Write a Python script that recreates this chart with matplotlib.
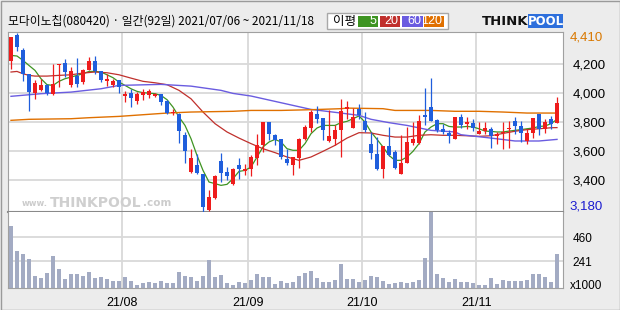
import matplotlib
matplotlib.use("Agg")
import matplotlib.pyplot as plt
from matplotlib.patches import Rectangle
import numpy as np

plt.rcParams['font.family'] = ['Noto Sans CJK KR', 'DejaVu Sans']

# ---------------- data ----------------
title = "모다이노칩(080420) · 일간(92일) 2021/07/06 ~ 2021/11/18"

opens = [4215, 4393, 4290, 4126, 3997, 4020, 4055, 3993, 4188, 4203,
         4050, 4114, 4073, 4158, 4217, 4146, 4080, 4050, 4084, 3975,
         4000, 3943, 3986, 3986, 3975, 3988, 3943, 3858, 3855, 3707,
         3455, 3501, 3439, 3196, 3279, 3530, 3455, 3370, 3505, 3460,
         3473, 3553, 3638, 3798, 3707, 3679, 3542, 3505, 3553, 3679,
         3759, 3855, 3826, 3665, 3684, 3741, 3890, 3759, 3885, 3805,
         3645, 3576, 3473, 3633, 3592, 3444, 3519, 3656, 3656, 3844,
         3901, 3810, 3748, 3723, 3684, 3833, 3787, 3791, 3718, 3734,
         3752, 3704, 3723, 3750, 3805, 3768, 3666, 3725, 3855, 3752,
         3817, 3794]
highs = [4385, 4410, 4306, 4130, 4084, 4096, 4062, 4194, 4197, 4233,
         4176, 4238, 4160, 4245, 4251, 4150, 4130, 4096, 4086, 4009,
         4027, 4004, 4027, 4027, 4000, 3990, 3947, 3885, 3858, 3730,
         3615, 3576, 3441, 3329, 3432, 3585, 3489, 3480, 3551, 3512,
         3569, 3718, 3798, 3798, 3718, 3680, 3615, 3558, 3688, 3780,
         3878, 3908, 3828, 3878, 3775, 3958, 3940, 3894, 3924, 3867,
         3730, 3695, 3633, 3764, 3604, 3707, 3764, 3798, 3849, 4032,
         4100, 3817, 3787, 3741, 3835, 3855, 3833, 3817, 3798, 3798,
         3764, 3730, 3798, 3803, 3833, 3803, 3752, 3826, 3855, 3817,
         3840, 3970]
lows = [4165, 4284, 4078, 3872, 3958, 4009, 3981, 3986, 4040, 4107,
        4039, 4039, 4062, 4153, 4130, 4073, 4045, 4039, 4000, 3936,
        3901, 3924, 3947, 3963, 3970, 3917, 3856, 3844, 3656, 3517,
        3450, 3444, 3180, 3185, 3272, 3386, 3398, 3365, 3409, 3437,
        3427, 3505, 3592, 3672, 3638, 3546, 3501, 3437, 3485, 3672,
        3730, 3794, 3672, 3663, 3643, 3558, 3817, 3757, 3821, 3730,
        3542, 3466, 3416, 3565, 3473, 3444, 3519, 3643, 3650, 3780,
        3805, 3730, 3718, 3656, 3684, 3757, 3752, 3736, 3716, 3718,
        3620, 3650, 3611, 3620, 3718, 3661, 3650, 3688, 3711, 3725,
        3748, 3794]
closes = [4382, 4313, 4126, 4004, 4066, 4055, 3997, 4061, 4195, 4142,
          4146, 4062, 4153, 4217, 4146, 4084, 4091, 4080, 4039, 3993,
          3965, 3993, 4004, 4009, 3988, 3936, 3860, 3867, 3736, 3597,
          3551, 3450, 3215, 3283, 3428, 3450, 3427, 3478, 3478, 3478,
          3558, 3638, 3798, 3714, 3672, 3558, 3519, 3558, 3679, 3764,
          3867, 3821, 3741, 3702, 3741, 3872, 3901, 3833, 3849, 3746,
          3588, 3473, 3633, 3574, 3485, 3517, 3661, 3679, 3803, 3835,
          3805, 3741, 3730, 3700, 3833, 3780, 3794, 3759, 3736, 3757,
          3700, 3714, 3730, 3757, 3768, 3725, 3723, 3826, 3752, 3798,
          3787, 3929]
volumes = [564, 334, 313, 261, 110, 86, 132, 294, 169, 77,
           129, 129, 110, 147, 86, 95, 77, 58, 64, 101,
           64, 28, 46, 55, 46, 64, 46, 46, 147, 110,
           101, 64, 110, 251, 101, 120, 46, 28, 55, 46,
           74, 129, 101, 101, 37, 64, 46, 55, 110, 138,
           156, 92, 55, 55, 74, 221, 83, 83, 55, 74,
           110, 101, 64, 37, 46, 55, 46, 55, 74, 276,
           800, 129, 92, 55, 83, 55, 55, 46, 28, 28,
           92, 37, 74, 64, 64, 64, 74, 129, 129, 101,
           55, 304]

ma5 = [4256, 4252, 4222, 4187, 4153, 4096, 4055, 4050, 4078, 4096,
       4107, 4119, 4130, 4146, 4146, 4142, 4123, 4103, 4073, 4050,
       4027, 4009, 4000, 3997, 3993, 3981, 3952, 3901, 3833, 3775,
       3684, 3569, 3466, 3386, 3375, 3363, 3370, 3409, 3459, 3466,
       3489, 3558, 3627, 3661, 3679, 3661, 3615, 3604, 3604, 3650,
       3718, 3757, 3775, 3775, 3775, 3794, 3803, 3821, 3840, 3798,
       3730, 3679, 3627, 3569, 3535, 3535, 3558, 3597, 3650, 3730,
       3764, 3787, 3787, 3768, 3764, 3764, 3768, 3764, 3752, 3736,
       3734, 3730, 3730, 3736, 3741, 3746, 3752, 3757, 3768, 3771,
       3787, 3817]
ma20_idx = [0, 1, 2, 3, 4, 6, 8, 10, 12, 14, 16, 18, 20, 22, 24, 26, 28, 30,
            32, 34, 36, 38, 40, 42, 44, 46, 48, 50, 52, 54, 56, 58, 60, 62,
            64, 66, 68, 70, 72, 74, 76, 78, 80, 82, 84, 86, 88, 90, 91]
ma20 = [4142, 4146, 4130, 4119, 4114, 4114, 4119, 4123, 4135, 4142, 4137,
        4123, 4100, 4078, 4068, 4055, 4016, 3958, 3867, 3787, 3730, 3688,
        3650, 3615, 3588, 3558, 3535, 3558, 3597, 3638, 3688, 3725, 3723,
        3707, 3695, 3695, 3707, 3711, 3707, 3707, 3704, 3700, 3704, 3720,
        3735, 3746, 3752, 3759, 3760]
ma60_idx = [0, 5, 10, 15, 18, 25, 30, 35, 37, 40, 45, 50, 55, 58, 60, 63,
            66, 70, 74, 75, 80, 84, 88, 91]
ma60 = [3975, 3993, 4004, 4027, 4050, 4057, 4045, 4016, 3995, 3977, 3931,
        3885, 3860, 3844, 3817, 3794, 3775, 3741, 3730, 3711, 3688, 3668,
        3668, 3679]
ma120_idx = [0, 3, 10, 13, 18, 26, 30, 37, 40, 45, 50, 55, 56, 62, 64, 70,
             74, 78, 82, 86, 91]
ma120 = [3810, 3817, 3821, 3828, 3837, 3860, 3867, 3872, 3878, 3878, 3883,
         3890, 3894, 3890, 3878, 3878, 3872, 3872, 3867, 3860, 3860]

price_ticks = [3400, 3600, 3800, 4000, 4200]
price_max, price_min = 4410, 3180
vol_ticks = [241, 460]
month_start_idx = [19, 40, 59, 78]
month_labels = ["21/08", "21/09", "21/10", "21/11"]
ma_labels = ["5", "20", "60", "120"]

# ---------------- style ----------------
W, H = 620, 310
UP, DOWN = '#ee1c1c', '#1f5edc'
MA_COLORS = ['#3e9422', '#c0302c', '#6a5ce0', '#e07000']
GRID = '#d9d9d9'
FRAME = '#a0a0a0'
NUMFONT = ['Liberation Sans', 'DejaVu Sans']

fig = plt.figure(figsize=(W / 100, H / 100), dpi=100, facecolor='#ececec')


def rect(x0, y0, x1, y1):
    return [x0 / W, 1 - y1 / H, (x1 - x0) / W, (y1 - y0) / H]


def ftext(x, y, s, **kw):
    fig.text(x / W, 1 - y / H, s, **kw)


def fbox(x0, y0, x1, y1, **kw):
    fig.add_artist(Rectangle((x0 / W, 1 - y1 / H), (x1 - x0) / W, (y1 - y0) / H,
                             transform=fig.transFigure, **kw))


# outer border
fbox(0.5, 0.5, W - 0.5, H - 0.5, facecolor='none', edgecolor='#9a9a9a', lw=1)

XL = (-0.5, 91.95)
idx = np.arange(len(opens))
o = np.array(opens); c = np.array(closes)
cols = [UP if cc >= oo else DOWN for oo, cc in zip(o, c)]

# ---------------- price panel ----------------
ax = fig.add_axes(rect(8, 32, 562.7, 212))
ax.set_facecolor('white')
ax.set_xlim(*XL)
ax.set_ylim(price_min, price_max + 7)
ax.set_yticks(price_ticks)
ax.set_xticks([m - 0.45 for m in month_start_idx])
ax.grid(True, color=GRID, lw=1.3, zorder=0)
ax.set_axisbelow(True)
ax.tick_params(axis='both', length=0)
ax.set_xticklabels([])
ax.yaxis.tick_right()
ax.set_yticklabels([f"{t:,}" for t in price_ticks], fontsize=9.5, family=NUMFONT)
ax.tick_params(axis='y', pad=7)
for s in ['top', 'left', 'right']:
    ax.spines[s].set_color(FRAME)
ax.spines['bottom'].set_color('#8a8a8a')
ax.spines['bottom'].set_linewidth(1.5)

# watermark
ax.text(0.024, 0.025, "www.", transform=ax.transAxes, fontsize=6, color='#cccccc',
        family='DejaVu Sans', fontweight='bold', va='bottom')
ax.text(0.075, 0.012, "THINKPOOL", transform=ax.transAxes, fontsize=10, color='#cfcfcf',
        family='DejaVu Sans', fontweight='bold', va='bottom')
ax.text(0.243, 0.025, ".com", transform=ax.transAxes, fontsize=7.5, color='#cccccc',
        family='DejaVu Sans', fontweight='bold', va='bottom')

# moving averages
ax.plot(idx, ma5, color=MA_COLORS[0], lw=0.9, zorder=2)
ax.plot(ma20_idx, ma20, color=MA_COLORS[1], lw=0.9, zorder=2)
ax.plot(ma60_idx, ma60, color=MA_COLORS[2], lw=1.0, zorder=2)
ax.plot(ma120_idx, ma120, color=MA_COLORS[3], lw=1.0, zorder=2)

# candles
ax.vlines(idx, lows, highs, colors=cols, lw=0.9, zorder=3)
body = np.maximum(np.abs(c - o), 10)
ax.bar(idx, body, bottom=np.minimum(o, c), width=0.8, color=cols, lw=0, zorder=4)

ax.text(1.013, 1 - (37.3 - 32) / 180, f"{price_max:,}", transform=ax.transAxes,
        fontsize=9.5, color='#d97800', va='center', ha='left', family=NUMFONT)
ax.text(1.013, 1 - (206.7 - 32) / 180, f"{price_min:,}", transform=ax.transAxes,
        fontsize=9.5, color='#1a1ad0', va='center', ha='left', family=NUMFONT)

# ---------------- volume panel ----------------
axv = fig.add_axes(rect(8, 212, 562.7, 287.7))
axv.set_facecolor('white')
axv.set_xlim(*XL)
axv.set_ylim(0, 693)
axv.set_yticks(vol_ticks)
axv.set_xticks([m - 0.45 for m in month_start_idx])
axv.grid(True, color=GRID, lw=1.3, zorder=0)
axv.set_axisbelow(True)
axv.tick_params(axis='both', length=0)
axv.yaxis.tick_right()
axv.set_yticklabels([str(v) for v in vol_ticks], fontsize=8.5, family=NUMFONT)
axv.tick_params(axis='y', pad=7)
axv.set_xticklabels(month_labels, fontsize=9, family=NUMFONT)
axv.tick_params(axis='x', pad=7)
axv.spines['top'].set_visible(False)
for s in ['left', 'right', 'bottom']:
    axv.spines[s].set_color(FRAME)
axv.bar(idx, volumes, width=0.8, color='#a3abc3', lw=0, zorder=2)
axv.text(1.013, 0.02, "x1000", transform=axv.transAxes, fontsize=8.5, va='center',
         ha='left', family=NUMFONT)

# ---------------- header ----------------
ftext(8, 21.5, title, fontsize=8.5, va='center', ha='left')

fbox(327, 13, 448, 29, facecolor='white', edgecolor='#a8a8a8', lw=1)
ftext(333, 21, "이평", fontsize=9, va='center', ha='left')
boxes = [(358, 378), (380, 400), (402, 423), (424, 444)]
for (x0, x1), colr, lab in zip(boxes, MA_COLORS, ma_labels):
    fbox(x0, 16, x1, 27, facecolor=colr, edgecolor='none')
    ftext(x1 - 1.5, 21.5, lab, fontsize=9, color='white', va='center', ha='right',
          family=NUMFONT)

# logo
ftext(482, 21.5, "THINK", fontsize=9.5, fontweight='bold', color='#111111',
      va='center', ha='left', family='DejaVu Sans')
fbox(528, 14.5, 563, 28, facecolor='#2d6fdc', edgecolor='none')
ftext(545.5, 21.5, "POOL", fontsize=8.5, fontweight='bold', color='white',
      va='center', ha='center', family='DejaVu Sans')

fig.savefig("out.png", dpi=100, facecolor=fig.get_facecolor())
